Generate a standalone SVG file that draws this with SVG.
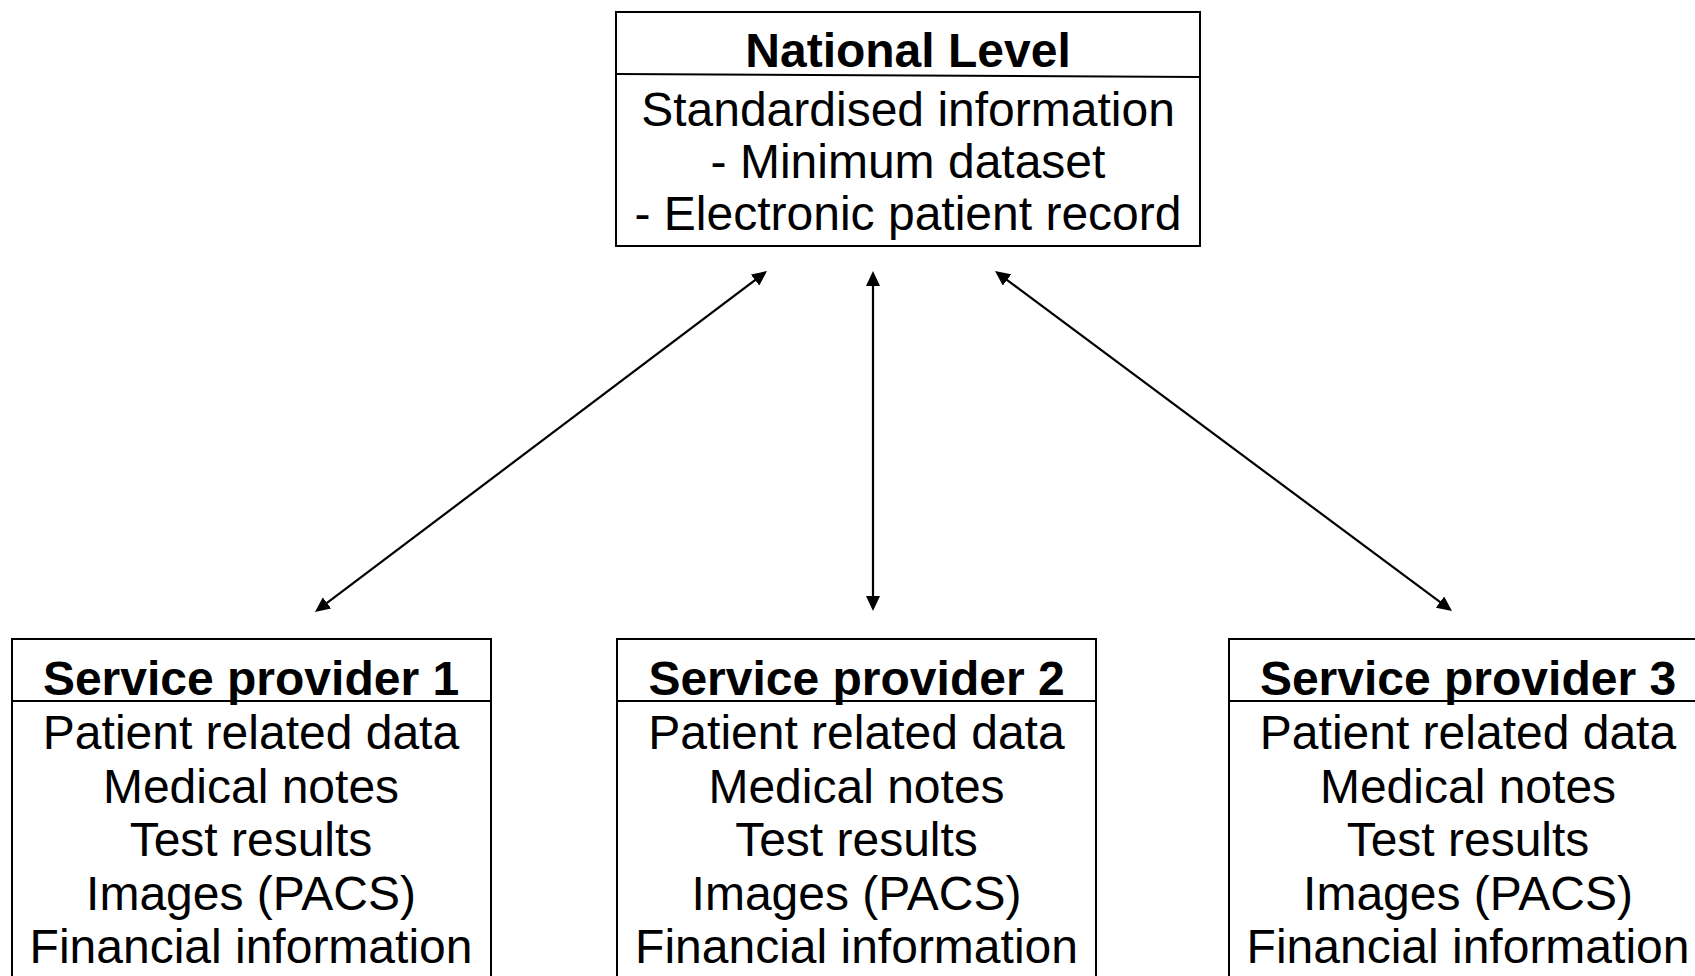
<svg xmlns="http://www.w3.org/2000/svg" width="1695" height="976" viewBox="0 0 1695 976">
<style>
.box{fill:#fff;stroke:#000;stroke-width:2}
.div{stroke:#000;stroke-width:2}
.t{font-family:"Liberation Sans",Arial,sans-serif;font-size:48px;fill:#000;text-anchor:middle}
.b{font-weight:bold}
.c{stroke:#000;stroke-width:2.2;fill:none;marker-start:url(#ah);marker-end:url(#ah)}
</style>
<defs>
<marker id="ah" viewBox="0 0 15 14" refX="12" refY="7" markerWidth="15" markerHeight="14" markerUnits="userSpaceOnUse" orient="auto-start-reverse">
<path d="M0,0 L15,7 L0,14 z" fill="#000"/>
</marker>
</defs>
<rect width="1695" height="976" fill="#fff"/>
<g id="national">
<rect class="box" x="616" y="12" width="584" height="234"/>
<line class="div" x1="616" y1="74" x2="1200" y2="77"/>
<text class="t b" x="908" y="67">National Level</text>
<text class="t" x="908" y="126">Standardised information</text>
<text class="t" x="908" y="178">- Minimum dataset</text>
<text class="t" x="908" y="230">- Electronic patient record</text>
</g>
<g id="sp1">
<rect class="box" x="12" y="639" width="479" height="400"/>
<line class="div" x1="12" y1="701" x2="491" y2="701"/>
<text class="t b" x="251" y="695">Service provider 1</text>
<text class="t" x="251" y="749">Patient related data</text>
<text class="t" x="251" y="802.5">Medical notes</text>
<text class="t" x="251" y="856">Test results</text>
<text class="t" x="251" y="909.5">Images (PACS)</text>
<text class="t" x="251" y="963">Financial information</text>
</g>
<g id="sp2">
<rect class="box" x="617" y="639" width="479" height="400"/>
<line class="div" x1="617" y1="701" x2="1096" y2="701"/>
<text class="t b" x="856.5" y="695">Service provider 2</text>
<text class="t" x="856.5" y="749">Patient related data</text>
<text class="t" x="856.5" y="802.5">Medical notes</text>
<text class="t" x="856.5" y="856">Test results</text>
<text class="t" x="856.5" y="909.5">Images (PACS)</text>
<text class="t" x="856.5" y="963">Financial information</text>
</g>
<g id="sp3">
<rect class="box" x="1229" y="639" width="479" height="400"/>
<line class="div" x1="1229" y1="701" x2="1708" y2="701"/>
<text class="t b" x="1468" y="695">Service provider 3</text>
<text class="t" x="1468" y="749">Patient related data</text>
<text class="t" x="1468" y="802.5">Medical notes</text>
<text class="t" x="1468" y="856">Test results</text>
<text class="t" x="1468" y="909.5">Images (PACS)</text>
<text class="t" x="1468" y="963">Financial information</text>
</g>
<g id="connectors">
<line class="c" x1="764.6" y1="272.8" x2="317.4" y2="610.2"/>
<line class="c" x1="873" y1="274" x2="873" y2="608"/>
<line class="c" x1="997.4" y1="272.8" x2="1449.6" y2="609.2"/>
</g>
</svg>
